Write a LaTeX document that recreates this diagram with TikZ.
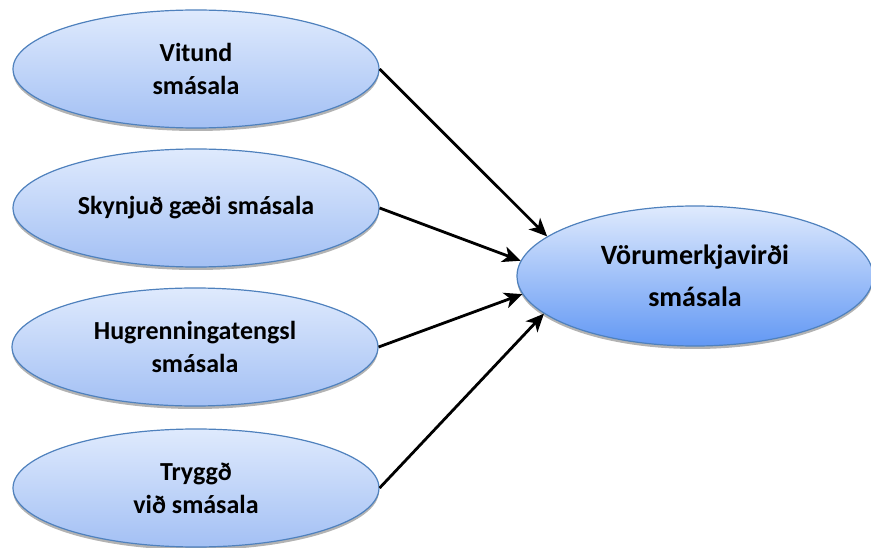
\documentclass[tikz,border=0pt]{standalone}
\usepackage{fontspec}
\setmainfont{Carlito}
\usetikzlibrary{shapes.geometric,arrows.meta,shadows}
\definecolor{edgec}{HTML}{4F81BD}
\definecolor{topc}{HTML}{DFEAFD}
\definecolor{botL}{HTML}{A3C0F4}
\definecolor{botR}{HTML}{6298F4}
\begin{document}
\begin{tikzpicture}[x=1pt,y=-1pt,
  basebox/.style={ellipse, draw=edgec, line width=1.2pt, inner sep=0pt, align=center,
    drop shadow={shadow xshift=0pt, shadow yshift=-3pt, fill=black!50, opacity=0.6}},
  lbox/.style={basebox, top color=topc, bottom color=botL, minimum width=366pt, minimum height=118pt,
    font=\fontsize{26}{33}\selectfont\bfseries},
  rbox/.style={basebox, top color=topc, bottom color=botR, minimum width=356pt, minimum height=140pt,
    font=\fontsize{28}{42}\selectfont\bfseries},
  arr/.style={line width=2.8pt, -{Stealth[length=18pt,width=16pt,inset=5pt]}}
]
\useasboundingbox (0,0) rectangle (871,548);
\node[lbox] (v1) at (196,69) {Vitund\\smásala};
\node[lbox] (v2) at (196,208) {Skynjuð gæði smásala};
\node[lbox] (v3) at (195,347) {Hugrenningatengsl\\smásala};
\node[lbox] (v4) at (196,488) {Tryggð\\við smásala};
\node[rbox] (r) at (695,276) {Vörumerkjavirði\\smásala};
\draw[arr] (v1.east) -- (r.165);
\draw[arr] (v2.east) -- (r.175);
\draw[arr] (v3.east) -- (r.186);
\draw[arr] (v4.east) -- (r.194);
\end{tikzpicture}
\end{document}
